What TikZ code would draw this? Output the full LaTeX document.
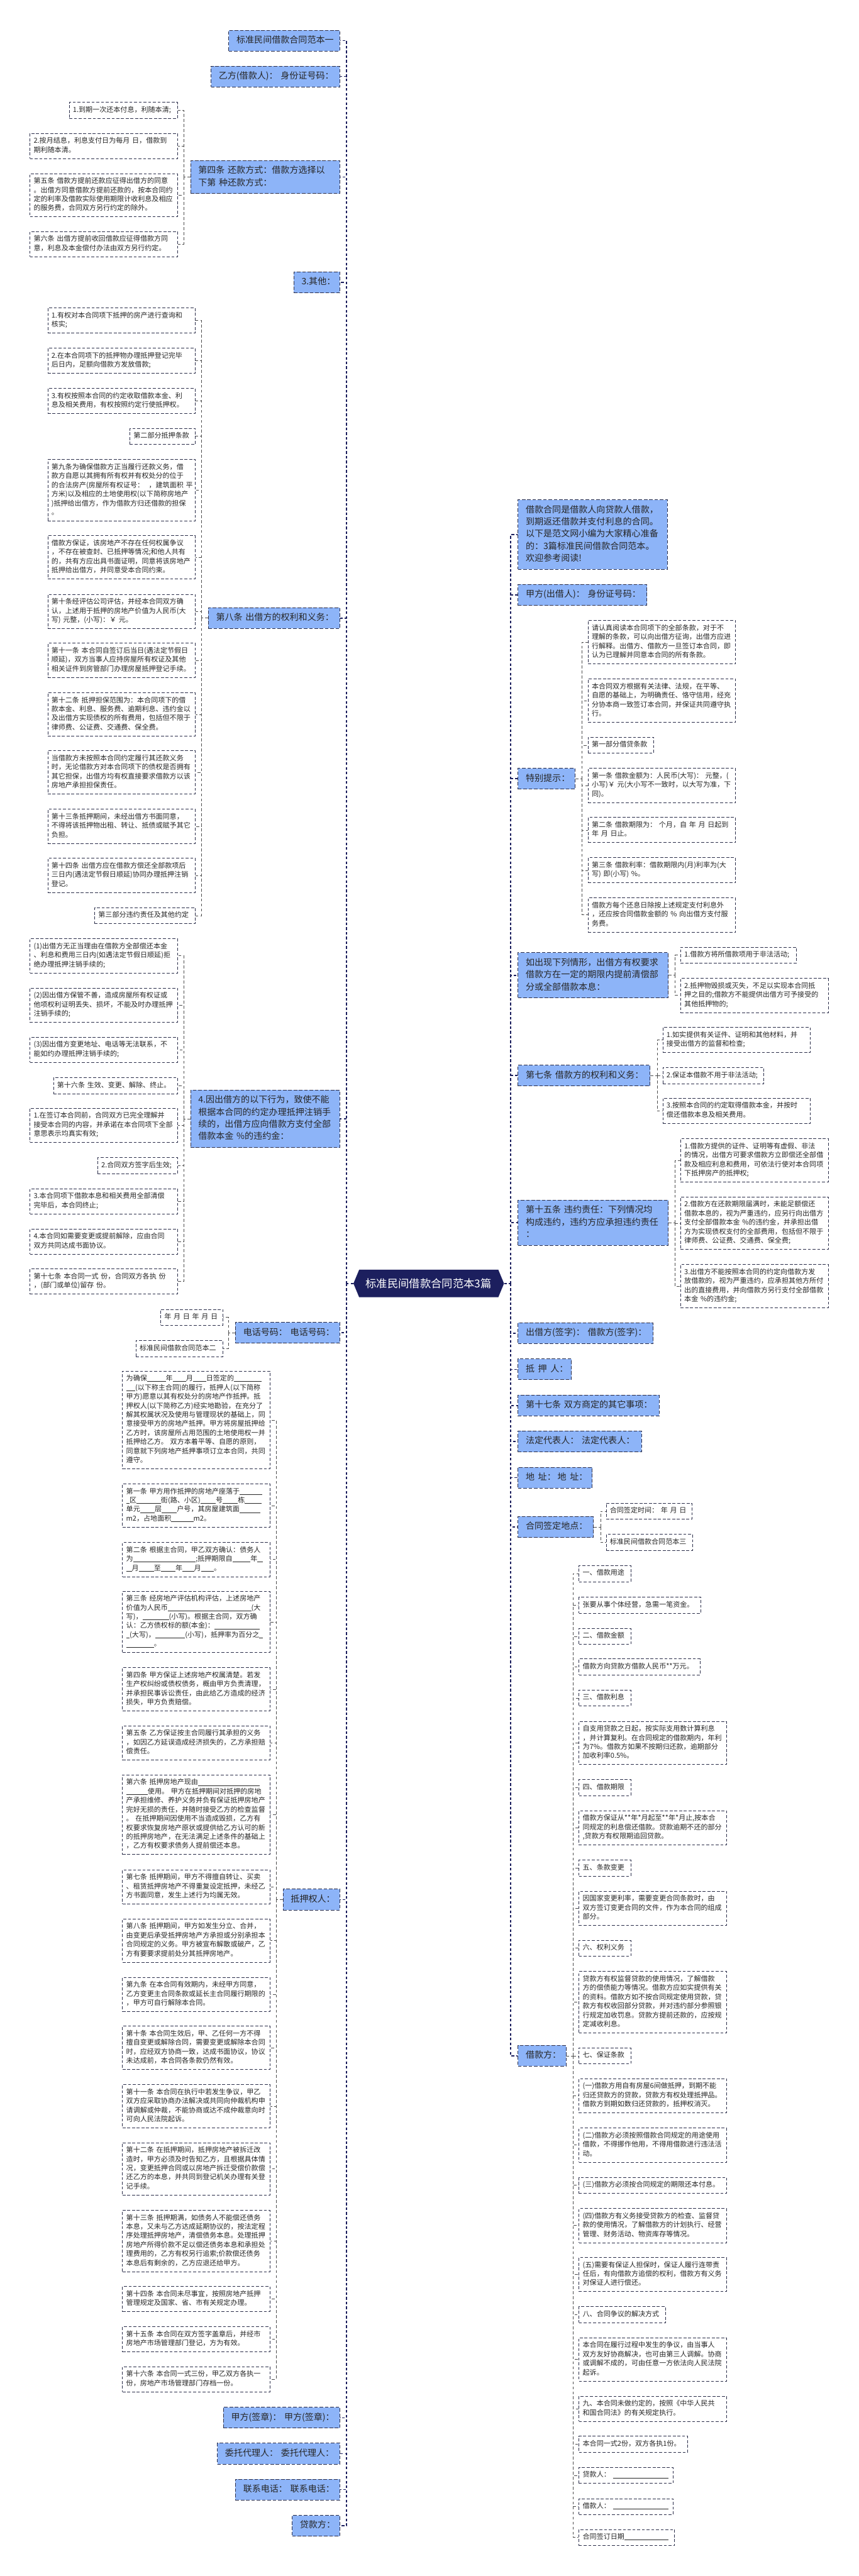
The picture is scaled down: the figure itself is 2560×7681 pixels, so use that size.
\documentclass[tikz,border=0pt]{standalone}
\usepackage{fontspec}
\setmainfont{Noto Sans CJK SC}
\usepackage{tikz}

\definecolor{trunkblue}{HTML}{1C1F5E}
\definecolor{topicfill}{HTML}{8DB4F8}
\definecolor{boxedge}{HTML}{2B2E4A}
\definecolor{twiggray}{HTML}{4D4D4D}
\definecolor{inkgray}{HTML}{262626}

% 填空横线
\newcommand{\fillin}[1]{\rule[-0.12em]{#1}{0.06em}}

\tikzset{
  trunk/.style={draw=trunkblue, line width=1.8pt, dash pattern=on 4.5pt off 3.5pt},
  twig/.style={draw=twiggray, line width=0.7pt, dash pattern=on 5pt off 3.5pt},
  rootnode/.style={minimum width=8.98cm, minimum height=1.64cm, inner sep=0pt,
    text=white, font=\fontsize{18.5}{22}\selectfont},
  topic/.style={draw=boxedge, line width=0.9pt, dash pattern=on 6pt off 3pt,
    fill=topicfill, text=inkgray, font=\fontsize{15}{20.7}\selectfont, align=left,
    inner xsep=0.46cm, inner ysep=7.3pt,
    execute at begin node=\strut, execute at end node=\strut},
  leaf/.style={draw=boxedge, line width=0.8pt, dash pattern=on 5pt off 3pt,
    fill=white, text=inkgray, font=\fontsize{11.8}{15.4}\selectfont, align=left,
    inner xsep=0.22cm, inner ysep=5.95pt,
    execute at begin node=\strut, execute at end node=\strut},
  topicL/.style={topic, anchor=east, text width=#1},
  topicR/.style={topic, anchor=west, text width=#1},
  leafL/.style={leaf, anchor=east, text width=#1},
  leafL/.default=8.36cm,
  leafR/.style={leaf, anchor=west, text width=#1},
  leafR/.default=8.36cm,
}

\begin{document}
\begin{tikzpicture}[x=0.02cm, y=-0.02cm]
    \path[use as bounding box, fill=white] (0,0) rectangle (2560,7681);

    % 根节点
    \fill[trunkblue] (1054,3827) -- (1071,3786) -- (1486,3786) -- (1503,3827) -- (1486,3868) -- (1071,3868) -- cycle;
    \node[rootnode] (root) at (1278.5,3827) {标准民间借款合同范本3篇};

    % 左侧一级节点
    \node[topicL=5.70cm] (l1) at (1014,121) {标准民间借款合同范本一};
    \node[topicL=6.76cm] (l2) at (1014,228) {乙方(借款人)：~身份证号码：};
    \node[topicL=7.98cm] (l3) at (1014,528) {第四条~还款方式：借款方选择以\\下第~种还款方式：};
    \node[topicL=1.82cm] (l4) at (1014,842) {3.其他：};
    \node[topicL=6.92cm] (l5) at (1014,1843) {第八条~出借方的权利和义务：};
    \node[topicL=7.98cm] (l6) at (1014,3336) {4.因出借方的以下行为，致使不能\\根据本合同的约定办理抵押注销手\\续的，出借方应向借款方支付全部\\借款本金~\%的违约金：};
    \node[topicL=5.30cm] (l7) at (1014,3974) {电话号码：~电话号码：};
    \node[topicL=2.46cm] (l8) at (1014,5664) {抵押权人：};
    \node[topicL=6.02cm] (l9) at (1014,7209) {甲方(签章)：~甲方(签章)：};
    \node[topicL=6.38cm] (l10) at (1014,7316) {委托代理人：~委托代理人：};
    \node[topicL=5.30cm] (l11) at (1014,7423) {联系电话：~联系电话：};
    \node[topicL=1.92cm] (l12) at (1014,7531) {贷款方：};

    % 右侧一级节点
    \node[topicR=7.98cm] (r1) at (1544,1594) {借款合同是借款人向贷款人借款，\\到期返还借款并支付利息的合同。\\以下是范文网小编为大家精心准备\\的：3篇标准民间借款合同范本。\\欢迎参考阅读!};
    \node[topicR=6.76cm] (r2) at (1544,1774) {甲方(出借人)：~身份证号码：};
    \node[topicR=2.48cm] (r3) at (1544,2322) {特别提示：};
    \node[topicR=8.04cm] (r4) at (1544,2908) {如出现下列情形，出借方有权要求\\借款方在一定的期限内提前清偿部\\分或全部借款本息：};
    \node[topicR=6.96cm] (r5) at (1544,3207) {第七条~借款方的权利和义务：};
    \node[topicR=8.04cm] (r6) at (1544,3646) {第十五条~违约责任：下列情况均\\构成违约，违约方应承担违约责任\\：};
    \node[topicR=7.14cm] (r7) at (1544,3975) {出借方(签字)：~借款方(签字)：};
    \node[topicR=2.26cm] (r8) at (1544,4083) {\mbox{抵\hspace{0.4em}押\hspace{0.4em}人：}};
    \node[topicR=7.50cm] (r9) at (1544,4191) {第十七条~双方商定的其它事项：};
    \node[topicR=6.44cm] (r10) at (1544,4298) {法定代表人：~法定代表人：};
    \node[topicR=3.50cm] (r11) at (1544,4406) {\mbox{地\hspace{0.4em}址：\hspace{0.2em}地\hspace{0.4em}址：}};
    \node[topicR=3.58cm] (r12) at (1544,4553) {合同签定地点：};
    \node[topicR=1.94cm] (r13) at (1544,6130) {借款方：};

    % 第四条
    \node[leafL=6.02cm] (a1) at (530,329) {1.到期一次还本付息，利随本清;};
    \node[leafL] (a2) at (530,435) {2.按月结息，利息支付日为每月~日，借款到\\期利随本清。};
    \node[leafL] (a3) at (530,582) {第五条~借款方提前还款应征得出借方的同意\\。出借方同意借款方提前还款的，按本合同约\\定的利率及借款实际使用期限计收利息及相应\\的服务费，合同双方另行约定的除外。};
    \node[leafL] (a4) at (530,728) {第六条~出借方提前收回借款应征得借款方同\\意，利息及本金偿付办法由双方另行约定。};

    % 第八条
    \node[leafL] (b1) at (583,956) {1.有权对本合同项下抵押的房产进行查询和\\核实;};
    \node[leafL] (b2) at (583,1076) {2.在本合同项下的抵押物办理抵押登记完毕\\后日内，足额向借款方发放借款;};
    \node[leafL] (b3) at (583,1196) {3.有权按照本合同的约定收取借款本金、利\\息及相关费用，有权按照约定行使抵押权。};
    \node[leafL=3.46cm] (b4) at (583,1301) {第二部分抵押条款};
    \node[leafL] (b5) at (583,1462) {第九条为确保借款方正当履行还款义务，借\\款方自愿以其拥有所有权并有权处分的位于\\的合法房产(房屋所有权证号：~~，建筑面积~平\\方米)以及相应的土地使用权(以下简称房地产\\)抵押给出借方，作为借款方归还借款的担保\\。};
    \node[leafL] (b6) at (583,1662) {借款方保证，该房地产不存在任何权属争议\\，不存在被查封、已抵押等情况;和他人共有\\的，共有方应出具书面证明，同意将该房地产\\抵押给出借方，并同意受本合同约束。};
    \node[leafL] (b7) at (583,1823) {第十条经评估公司评估，并经本合同双方确\\认，上述用于抵押的房地产价值为人民币(大\\写)~元整，(小写)：￥~元。};
    \node[leafL] (b8) at (583,1969) {第十一条~本合同自签订后当日(遇法定节假日\\顺延)，双方当事人应持房屋所有权证及其他\\相关证件到房管部门办理房屋抵押登记手续。};
    \node[leafL] (b9) at (583,2130) {第十二条~抵押担保范围为：本合同项下的借\\款本金、利息、服务费、逾期利息、违约金以\\及出借方实现债权的所有费用，包括但不限于\\律师费、公证费、交通费、保全费。};
    \node[leafL] (b10) at (583,2303) {当借款方未按照本合同约定履行其还款义务\\时，无论借款方对本合同项下的债权是否拥有\\其它担保，出借方均有权直接要求借款方以该\\房地产承担担保责任。};
    \node[leafL] (b11) at (583,2464) {第十三条抵押期间，未经出借方书面同意，\\不得将该抵押物出租、转让、抵债或赋予其它\\负担。};
    \node[leafL] (b12) at (583,2610) {第十四条~出借方应在借款方偿还全部款项后\\三日内(遇法定节假日顺延)协同办理抵押注销\\登记。};
    \node[leafL=5.56cm] (b13) at (583,2730) {第三部分违约责任及其他约定};

    % 4.因出借方的以下行为
    \node[leafL] (c1) at (530,2850) {(1)出借方无正当理由在借款方全部偿还本金\\、利息和费用三日内(如遇法定节假日顺延)拒\\绝办理抵押注销手续的;};
    \node[leafL] (c2) at (530,2997) {(2)因出借方保管不善，造成房屋所有权证或\\他项权利证明丢失、损坏，不能及时办理抵押\\注销手续的;};
    \node[leafL] (c3) at (530,3130) {(3)因出借方变更地址、电话等无法联系，不\\能如约办理抵押注销手续的;};
    \node[leafL=6.96cm] (c4) at (530,3237) {第十六条~生效、变更、解除、终止。};
    \node[leafL] (c5) at (530,3355) {1.在签订本合同前，合同双方已完全理解并\\接受本合同的内容，并承诺在本合同项下全部\\意思表示均真实有效;};
    \node[leafL=4.32cm] (c6) at (530,3476) {2.合同双方签字后生效;};
    \node[leafL] (c7) at (530,3582) {3.本合同项下借款本息和相关费用全部清偿\\完毕后，本合同终止;};
    \node[leafL] (c8) at (530,3702) {4.本合同如需要变更或提前解除，应由合同\\双方共同达成书面协议。};
    \node[leafL] (c9) at (530,3821) {第十七条~本合同一式~份，合同双方各执~份\\，(部门或单位)留存~份。};

    % 电话号码
    \node[leafL=3.26cm] (d1) at (665,3928) {年~月~日~年~月~日};
    \node[leafL=4.74cm] (d2) at (665,4021) {标准民间借款合同范本二};

    % 抵押权人
    \node[leafL] (e1) at (806,4234) {为确保\fillin{2.7em}年\fillin{1.9em}月\fillin{1.9em}日签定的\fillin{4em}\\\fillin{1.3em}(以下称主合同)的履行，抵押人(以下简称\\甲方)愿意以其有权处分的房地产作抵押。抵\\押权人(以下简称乙方)经实地勘验，在充分了\\解其权属状况及使用与管理现状的基础上，同\\意接受甲方的房地产抵押。甲方将房屋抵押给\\乙方时，该房屋所占用范围的土地使用权一并\\抵押给乙方。~双方本着平等、自愿的原则，\\同意就下列房地产抵押事项订立本合同，共同\\遵守。};
    \node[leafL] (e2) at (806,4489) {第一条~甲方用作抵押的房地产座落于\fillin{3.2em}\\\fillin{0.5em}区\fillin{3.5em}街(路、小区)\fillin{2.2em}号\fillin{2.2em}栋\fillin{2.4em}\\单元\fillin{2.1em}层\fillin{2.2em}户号，其房屋建筑面\fillin{3em}\\m2，占地面积\fillin{3.2em}m2。};
    \node[leafL] (e3) at (806,4650) {第二条~根据主合同，甲乙双方确认：债务人\\为\fillin{9em};抵押期限自\fillin{2.6em}年\fillin{0.8em}\\\fillin{0.8em}月\fillin{2.2em}至\fillin{2.1em}年\fillin{1.65em}月\fillin{1.85em}。};
    \node[leafL] (e4) at (806,4836) {第三条~经房地产评估机构评估，上述房地产\\价值为人民币\fillin{12em}(大\\写)，\fillin{3.8em}(小写)。根据主合同，双方确\\认：乙方债权标的额(本金)：\fillin{6.5em}\\\fillin{0.5em}(大写)，\fillin{4.3em}(小写)，抵押率为百分之\fillin{0.5em}\\\fillin{4em}。};
    \node[leafL] (e5) at (806,5037) {第四条~甲方保证上述房地产权属清楚。若发\\生产权纠纷或债权债务，概由甲方负责清理，\\并承担民事诉讼责任，由此给乙方造成的经济\\损失，甲方负责赔偿。};
    \node[leafL] (e6) at (806,5197) {第五条~乙方保证按主合同履行其承担的义务\\，如因乙方延误造成经济损失的，乙方承担赔\\偿责任。};
    \node[leafL] (e7) at (806,5411) {第六条~抵押房地产现由\fillin{8.9em}\\\fillin{3.1em}使用。~甲方在抵押期间对抵押的房地\\产承担维修、养护义务并负有保证抵押房地产\\完好无损的责任，并随时接受乙方的检查监督\\。~在抵押期间因使用不当造成毁损，乙方有\\权要求恢复房地产原状或提供给乙方认可的新\\的抵押房地产，在无法满足上述条件的基础上\\，乙方有权要求债务人提前偿还本息。};
    \node[leafL] (e8) at (806,5626) {第七条~抵押期间，甲方不得擅自转让、买卖\\、租赁抵押房地产不得重复设定抵押，未经乙\\方书面同意，发生上述行为均属无效。};
    \node[leafL] (e9) at (806,5786) {第八条~抵押期间，甲方如发生分立、合并，\\由变更后承受抵押房地产方承担或分别承担本\\合同规定的义务。甲方被宣布解散或破产，乙\\方有要要求提前处分其抵押房地产。};
    \node[leafL] (e10) at (806,5947) {第九条~在本合同有效期内，未经甲方同意，\\乙方变更主合同条款或延长主合同履行期限的\\，甲方可自行解除本合同。};
    \node[leafL] (e11) at (806,6106) {第十条~本合同生效后，甲、乙任何一方不得\\擅自变更或解除合同，需要变更或解除本合同\\时，应经双方协商一致，达成书面协议，协议\\未达成前，本合同各条款仍然有效。};
    \node[leafL] (e12) at (806,6280) {第十一条~本合同在执行中若发生争议，甲乙\\双方应采取协商办法解决或共同向仲裁机构申\\请调解或仲裁，不能协商或达不成仲裁意向时\\可向人民法院起诉。};
    \node[leafL] (e13) at (806,6467) {第十二条~在抵押期间，抵押房地产被拆迁改\\造时，甲方必须及时告知乙方，且根据具体情\\况，变更抵押合同或以房地产拆迁受偿价款偿\\还乙方的本息，并共同到登记机关办理有关登\\记手续。};
    \node[leafL] (e14) at (806,6682) {第十三条~抵押期满，如债务人不能偿还债务\\本息，又未与乙方达成延期协议的，按法定程\\序处理抵押房地产，清偿债务本息。处理抵押\\房地产所得价款不足以偿还债务本息和承担处\\理费用的，乙方有权另行追索;价款偿还债务\\本息后有剩余的，乙方应退还给甲方。};
    \node[leafL] (e15) at (806,6855) {第十四条~本合同未尽事宜，按照房地产抵押\\管理规定及国家、省、市有关规定办理。};
    \node[leafL] (e16) at (806,6975) {第十五条~本合同在双方签字盖章后，并经市\\房地产市场管理部门登记，方为有效。};
    \node[leafL] (e17) at (806,7094) {第十六条~本合同一式三份，甲乙双方各执一\\份，房地产市场管理部门存档一份。};

    % 特别提示
    \node[leafR] (f1) at (1753,1915) {请认真阅读本合同项下的全部条款，对于不\\理解的条款，可以向出借方征询，出借方应进\\行解释。出借方、借款方一旦签订本合同，即\\认为已理解并同意本合同的所有条款。};
    \node[leafR] (f2) at (1753,2089) {本合同双方根据有关法律、法规，在平等、\\自愿的基础上，为明确责任、恪守信用，经充\\分协本商一致签订本合同，并保证共同遵守执\\行。};
    \node[leafR=3.46cm] (f3) at (1753,2222) {第一部分借贷条款};
    \node[leafR] (f4) at (1753,2342) {第一条~借款金额为：人民币(大写)：~元整，(\\小写)￥~元(大小写不一致时，以大写为准，下\\同)。};
    \node[leafR] (f5) at (1753,2475) {第二条~借款期限为：~个月，自~年~月~日起到\\年~月~日止。};
    \node[leafR] (f6) at (1753,2595) {第三条~借款利率：借款期限内(月)利率为(大\\写)~即(小写)~\%。};
    \node[leafR] (f7) at (1753,2728) {借款方每个还息日除按上述规定支付利息外\\，还应按合同借款金额的~\%~向出借方支付服\\务费。};

    % 提前清偿
    \node[leafR=6.46cm] (g1) at (2029,2848) {1.借款方将所借款项用于非法活动;};
    \node[leafR] (g2) at (2029,2968) {2.抵押物毁损或灭失，不足以实现本合同抵\\押之目的;借款方不能提供出借方可予接受的\\其他抵押物的;};

    % 第七条
    \node[leafR] (h1) at (1976,3101) {1.如实提供有关证件、证明和其他材料，并\\接受出借方的监督和检查;};
    \node[leafR=5.58cm] (h2) at (1976,3207) {2.保证本借款不用于非法活动;};
    \node[leafR] (h3) at (1976,3312) {3.按照本合同的约定取得借款本金，并按时\\偿还借款本息及相关费用。};

    % 第十五条
    \node[leafR] (i1) at (2029,3460) {1.借款方提供的证件、证明等有虚假、非法\\的情况，出借方可要求借款方立即偿还全部借\\款及相应利息和费用，可依法行使对本合同项\\下抵押房产的抵押权;};
    \node[leafR] (i2) at (2029,3647) {2.借款方在还款期限届满时，未能足额偿还\\借款本息的，视为严重违约，应另行向出借方\\支付全部借款本金~\%的违约金，并承担出借\\方为实现债权支付的全部费用，包括但不限于\\律师费、公证费、交通费、保全费;};
    \node[leafR] (i3) at (2029,3835) {3.出借方不能按照本合同的约定向借款方发\\放借款的，视为严重违约，应承担其他方所付\\出的直接费用，并向借款方另行支付全部借款\\本金~\%的违约金;};

    % 合同签定地点
    \node[leafR=4.66cm] (j1) at (1807,4506) {合同签定时间：~年~月~日};
    \node[leafR=4.70cm] (j2) at (1807,4599) {标准民间借款合同范本三};

    % 借款方
    \node[leafR=2.64cm] (k1) at (1726,4692) {一、借款用途};
    \node[leafR=6.82cm] (k2) at (1726,4786) {张要从事个体经营，急需一笔资金。};
    \node[leafR=2.64cm] (k3) at (1726,4879) {二、借款金额};
    \node[leafR=6.78cm] (k4) at (1726,4970) {借款方向贷款方借款人民币**万元。};
    \node[leafR=2.64cm] (k5) at (1726,5063) {三、借款利息};
    \node[leafR] (k6) at (1726,5197) {自支用贷款之日起，按实际支用数计算利息\\，并计算复利。在合同规定的借款期内，年利\\为7\%。借款方如果不按期归还款，逾期部分\\加收利率0.5\%。};
    \node[leafR=2.64cm] (k7) at (1726,5330) {四、借款期限};
    \node[leafR] (k8) at (1726,5450) {借款方保证从**年*月起至**年*月止,按本合\\同规定的利息偿还借款。贷款逾期不还的部分\\,贷款方有权限期追回贷款。};
    \node[leafR=2.64cm] (k9) at (1726,5570) {五、条款变更};
    \node[leafR] (k10) at (1726,5690) {因国家变更利率，需要变更合同条款时，由\\双方签订变更合同的文件，作为本合同的组成\\部分。};
    \node[leafR=2.64cm] (k11) at (1726,5809) {六、权利义务};
    \node[leafR] (k12) at (1726,5970) {贷款方有权监督贷款的使用情况，了解借款\\方的偿债能力等情况。借款方应如实提供有关\\的资料。借款方如不按合同规定使用贷款，贷\\款方有权收回部分贷款，并对违约部分参照银\\行规定加收罚息。贷款方提前还款的，应按规\\定减收利息。};
    \node[leafR=2.64cm] (k13) at (1726,6130) {七、保证条款};
    \node[leafR] (k14) at (1726,6249) {(一)借款方用自有房屋6间做抵押，到期不能\\归还贷款方的贷款，贷款方有权处理抵押品。\\借款方到期如数归还贷款的，抵押权消灭。};
    \node[leafR] (k15) at (1726,6396) {(二)借款方必须按照借款合同规定的用途使用\\借款，不得挪作他用，不得用借款进行违法活\\动。};
    \node[leafR] (k16) at (1726,6516) {(三)借款方必须按合同规定的期限还本付息。};
    \node[leafR] (k17) at (1726,6636) {(四)借款方有义务接受贷款方的检查、监督贷\\款的使用情况，了解借款方的计划执行、经营\\管理、财务活动、物资库存等情况。};
    \node[leafR] (k18) at (1726,6782) {(五)需要有保证人担保时，保证人履行连带责\\任后，有向借款方追偿的权利，借款方有义务\\对保证人进行偿还。};
    \node[leafR=4.72cm] (k19) at (1726,6902) {八、合同争议的解决方式};
    \node[leafR] (k20) at (1726,7035) {本合同在履行过程中发生的争议，由当事人\\双方友好协商解决，也可由第三人调解。协商\\或调解不成的，可由任意一方依法向人民法院\\起诉。};
    \node[leafR] (k21) at (1726,7182) {九、本合同未做约定的，按照《中华人民共\\和国合同法》的有关规定执行。};
    \node[leafR=6.04cm] (k22) at (1726,7288) {本合同一式2份，双方各执1份。};
    \node[leafR=5.16cm] (k23) at (1726,7381) {贷款人：~\fillin{8em}};
    \node[leafR=5.16cm] (k24) at (1726,7474) {借款人：~\fillin{8em}};
    \node[leafR=5.26cm] (k25) at (1726,7566) {合同签订日期\fillin{6.3em}};

    % 主干连线
    \draw[trunk] (root.west) -- ++(-20,0) coordinate (tl);
    \draw[trunk] (tl) |- (l1.east) (tl) |- (l2.east) (tl) |- (l3.east) (tl) |- (l4.east)
        (tl) |- (l5.east) (tl) |- (l6.east) (tl) |- (l7.east) (tl) |- (l8.east)
        (tl) |- (l9.east) (tl) |- (l10.east) (tl) |- (l11.east) (tl) |- (l12.east);
    \draw[trunk] (root.east) -- ++(20,0) coordinate (tr);
    \draw[trunk] (tr) |- (r1.west) (tr) |- (r2.west) (tr) |- (r3.west) (tr) |- (r4.west)
        (tr) |- (r5.west) (tr) |- (r6.west) (tr) |- (r7.west) (tr) |- (r8.west)
        (tr) |- (r9.west) (tr) |- (r10.west) (tr) |- (r11.west) (tr) |- (r12.west)
        (tr) |- (r13.west);

    % 分支连线
    \draw[twig] (l3.west) -- ++(-20,0) coordinate (ja);
    \draw[twig] (ja) |- (a1.east) (ja) |- (a2.east) (ja) |- (a3.east) (ja) |- (a4.east);
    \draw[twig] (l5.west) -- ++(-20,0) coordinate (jb);
    \draw[twig] (jb) |- (b1.east) (jb) |- (b2.east) (jb) |- (b3.east) (jb) |- (b4.east)
        (jb) |- (b5.east) (jb) |- (b6.east) (jb) |- (b7.east) (jb) |- (b8.east)
        (jb) |- (b9.east) (jb) |- (b10.east) (jb) |- (b11.east) (jb) |- (b12.east)
        (jb) |- (b13.east);
    \draw[twig] (l6.west) -- ++(-20,0) coordinate (jc);
    \draw[twig] (jc) |- (c1.east) (jc) |- (c2.east) (jc) |- (c3.east) (jc) |- (c4.east)
        (jc) |- (c5.east) (jc) |- (c6.east) (jc) |- (c7.east) (jc) |- (c8.east)
        (jc) |- (c9.east);
    \draw[twig] (l7.west) -- ++(-20,0) coordinate (jd);
    \draw[twig] (jd) |- (d1.east) (jd) |- (d2.east);
    \draw[twig] (l8.west) -- ++(-20,0) coordinate (je);
    \draw[twig] (je) |- (e1.east) (je) |- (e2.east) (je) |- (e3.east) (je) |- (e4.east)
        (je) |- (e5.east) (je) |- (e6.east) (je) |- (e7.east) (je) |- (e8.east)
        (je) |- (e9.east) (je) |- (e10.east) (je) |- (e11.east) (je) |- (e12.east)
        (je) |- (e13.east) (je) |- (e14.east) (je) |- (e15.east) (je) |- (e16.east)
        (je) |- (e17.east);
    \draw[twig] (r3.east) -- ++(20,0) coordinate (jf);
    \draw[twig] (jf) |- (f1.west) (jf) |- (f2.west) (jf) |- (f3.west) (jf) |- (f4.west)
        (jf) |- (f5.west) (jf) |- (f6.west) (jf) |- (f7.west);
    \draw[twig] (r4.east) -- ++(20,0) coordinate (jg);
    \draw[twig] (jg) |- (g1.west) (jg) |- (g2.west);
    \draw[twig] (r5.east) -- ++(20,0) coordinate (jh);
    \draw[twig] (jh) |- (h1.west) (jh) |- (h2.west) (jh) |- (h3.west);
    \draw[twig] (r6.east) -- ++(20,0) coordinate (ji);
    \draw[twig] (ji) |- (i1.west) (ji) |- (i2.west) (ji) |- (i3.west);
    \draw[twig] (r12.east) -- ++(20,0) coordinate (jj);
    \draw[twig] (jj) |- (j1.west) (jj) |- (j2.west);
    \draw[twig] (r13.east) -- ++(20,0) coordinate (jk);
    \draw[twig] (jk) |- (k1.west) (jk) |- (k2.west) (jk) |- (k3.west) (jk) |- (k4.west)
        (jk) |- (k5.west) (jk) |- (k6.west) (jk) |- (k7.west) (jk) |- (k8.west)
        (jk) |- (k9.west) (jk) |- (k10.west) (jk) |- (k11.west) (jk) |- (k12.west)
        (jk) |- (k13.west) (jk) |- (k14.west) (jk) |- (k15.west) (jk) |- (k16.west)
        (jk) |- (k17.west) (jk) |- (k18.west) (jk) |- (k19.west) (jk) |- (k20.west)
        (jk) |- (k21.west) (jk) |- (k22.west) (jk) |- (k23.west) (jk) |- (k24.west)
        (jk) |- (k25.west);
\end{tikzpicture}
\end{document}
